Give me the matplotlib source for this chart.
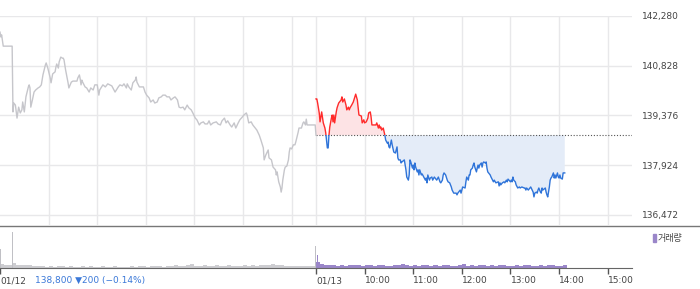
import numpy as np
import matplotlib.pyplot as plt
from matplotlib.patches import Rectangle
from matplotlib.lines import Line2D

# 전일 (01/12) : 09:00 기준 경과 분, 가격
d1_min = [0, 1, 2, 4, 15, 16, 17, 19, 21, 23, 25, 27, 28, 30, 32, 35, 36, 37, 38, 40,
          42, 44, 47, 49, 51, 53, 56, 57, 59, 62, 63, 65, 68, 69, 70, 72, 73, 75, 77, 78,
          79, 81, 84, 85, 88, 90, 93, 95, 96, 98, 99, 100, 101, 102, 105, 107, 110, 112, 115, 117,
          120, 122, 123, 127, 130, 133, 138, 142, 146, 148, 151, 153, 156, 157, 159, 162, 164, 167, 168, 169,
          172, 174, 177, 179, 181, 184, 186, 189, 191, 194, 196, 199, 201, 204, 206, 209, 211, 214, 216, 219,
          221, 223, 226, 228, 231, 233, 236, 238, 241, 243, 246, 248, 251, 253, 256, 258, 260, 263, 267, 269,
          272, 274, 277, 279, 281, 284, 286, 289, 291, 294, 296, 299, 301, 304, 305, 307, 310, 312, 315, 317,
          320, 322, 325, 326, 328, 331, 332, 335, 337, 340, 341, 342, 344, 346, 347, 348, 349, 351, 352, 354,
          356, 357, 358, 360, 362, 364, 365, 368, 369, 372, 374, 375, 377, 378, 379, 389, 390]
d1_price = [141810, 141670, 141730, 141400, 141400, 139480, 139740, 139680, 139300, 139620,
            139450, 139540, 139770, 139480, 139920, 140210, 140270, 140180, 139620, 139830,
            140060, 140120, 140180, 140210, 140270, 140560, 140850, 140910, 140760, 140470,
            140330, 140590, 140650, 140790, 140880, 140760, 140940, 141080, 141050, 141050,
            141000, 140700, 140330, 140180, 140350, 140380, 140380, 140380, 140470, 140560,
            140440, 140270, 140410, 140350, 140210, 140180, 140060, 140180, 140120, 140270,
            140270, 139970, 140120, 140270, 140210, 140300, 140240, 140060, 140210, 140270,
            140240, 140300, 140180, 140300, 140210, 140120, 140330, 140410, 140500, 140350,
            140210, 140210, 140210, 140060, 139970, 139890, 139770, 139830, 139740, 139770,
            139890, 139920, 139970, 139970, 139920, 139920, 139830, 139890, 139920, 139830,
            139620, 139600, 139620, 139540, 139680, 139600, 139540, 139450, 139300, 139250,
            139100, 139160, 139190, 139130, 139130, 139220, 139100, 139160, 139190, 139130,
            139100, 139220, 139300, 139160, 139220, 139100, 139040, 139160, 139010, 139160,
            139250, 139330, 139390, 139450, 139390, 139160, 139190, 139100, 139010, 138950,
            138800, 138660, 138430, 138080, 138220, 138370, 138140, 138080, 137870, 137790,
            137640, 137730, 137440, 137290, 137140, 137260, 137490, 137790, 137870, 137900,
            138080, 138310, 138430, 138400, 138520, 138520, 138600, 138890, 139010, 139010,
            139160, 139190, 139100, 139270, 139100, 139100, 138800]

# 당일 (01/13) : 09:00 기준 경과 분, 가격
d2_min = [0, 1, 2, 4, 5, 7, 9, 11, 12, 14, 15, 16, 17, 19, 20, 21, 22, 23, 25, 26,
          28, 31, 32, 33, 35, 37, 38, 40, 41, 42, 44, 46, 48, 49, 51, 52, 53, 56, 57, 59,
          60, 62, 64, 65, 67, 68, 69, 72, 74, 75, 77, 78, 79, 80, 81, 83, 85, 86, 88, 89,
          90, 91, 93, 94, 96, 98, 99, 100, 101, 102, 104, 105, 106, 109, 110, 111, 112, 114, 115, 116,
          117, 119, 120, 121, 122, 123, 125, 126, 127, 128, 130, 131, 133, 135, 136, 137, 138, 140, 141, 143,
          144, 146, 147, 149, 151, 153, 154, 156, 157, 158, 160, 162, 163, 165, 167, 168, 170, 173, 174, 175,
          178, 179, 180, 181, 184, 185, 186, 188, 189, 190, 191, 193, 194, 195, 196, 198, 199, 200, 201, 202,
          204, 205, 206, 207, 209, 210, 211, 212, 215, 216, 219, 220, 222, 225, 226, 227, 228, 230, 232, 233,
          235, 236, 237, 240, 241, 242, 243, 244, 246, 247, 249, 251, 252, 254, 257, 258, 259, 260, 262, 264,
          265, 268, 269, 270, 272, 273, 274, 275, 277, 278, 279, 280, 283, 284, 285, 286, 288, 289, 290, 291,
          293, 294, 295, 296, 298, 299, 300, 301, 302, 304, 305, 307]
d2_price = [139860, 139860, 139740, 139450, 139190, 139480, 139160, 139010, 138870, 138430,
            138430, 138800, 139040, 139300, 139390, 139190, 139390, 139160, 139480, 139600,
            139740, 139830, 139920, 139770, 139860, 139680, 139540, 139620, 139540, 139600,
            139680, 139770, 139920, 140000, 139830, 139600, 139390, 139360, 139160, 139250,
            139160, 139190, 139300, 139450, 139480, 139330, 139100, 139100, 139100, 139160,
            139010, 139100, 139010, 139040, 138950, 139010, 138800, 138660, 138570, 138600,
            138460, 138430, 138660, 138520, 138310, 138280, 138370, 138460, 138140, 138080,
            138080, 137990, 138020, 138080, 137930, 137790, 137580, 137490, 137640, 138080,
            138020, 137840, 137930, 137790, 137990, 137870, 137730, 137790, 137640, 137790,
            137640, 137670, 137580, 137490, 137550, 137410, 137640, 137490, 137550, 137580,
            137490, 137580, 137550, 137490, 137580, 137440, 137410, 137490, 137640, 137700,
            137640, 137490, 137440, 137410, 137290, 137200, 137110, 137110, 137060, 137110,
            137200, 137110, 137200, 137290, 137260, 137440, 137580, 137490, 137640, 137640,
            137790, 137840, 137930, 137990, 137870, 137730, 137840, 137930, 137840, 137930,
            137990, 137870, 137990, 138020, 137990, 138020, 137840, 137730, 137640, 137580,
            137440, 137490, 137410, 137440, 137320, 137410, 137350, 137410, 137440, 137410,
            137490, 137440, 137520, 137440, 137490, 137440, 137580, 137490, 137440, 137350,
            137260, 137290, 137260, 137290, 137260, 137260, 137200, 137260, 137200, 137260,
            137290, 137140, 137000, 137110, 137140, 137110, 137200, 137260, 137140, 137110,
            137260, 137200, 137260, 137140, 137060, 137000, 137290, 137490, 137550, 137580,
            137700, 137550, 137640, 137550, 137700, 137580, 137550, 137640, 137550, 137520,
            137700, 137700]

base_price = 138800
y_ticks = [136472, 137924, 139376, 140828, 142280]

# 거래량 (5분 단위) + 큰 체결
d1_vol = [4, 3, 3, 5, 3, 3, 3, 3,
          2, 2, 2, 1, 2, 1, 2, 2, 1, 2, 1, 1, 2, 1, 2, 1, 1, 2, 1, 1, 2, 1, 1,
          1, 2, 1, 2, 2, 1, 2, 2, 2, 1,
          2, 2, 3, 2, 2, 3, 4, 2, 2, 3,
          2, 2, 3, 2, 2, 3, 2, 2, 2, 3,
          2, 3, 2, 3, 3, 3, 4, 3, 3, 2,
          2, 2, 2, 2, 2, 2, 2]
d2_vol = [6, 4, 3, 3, 3, 2, 3, 2, 3, 3, 3, 2, 3, 3, 2, 3, 3, 2, 2, 3,
          3, 4, 3, 2, 3, 2, 3, 3, 2, 3, 2, 3, 3, 2, 2, 3, 4, 2, 3, 2,
          3, 3, 2, 3, 2, 3, 3, 2, 2, 3, 2, 3, 3, 2, 2, 3, 2, 3, 3, 2,
          2, 3]
d1_spike_min = [0, 15, 389]
d1_spike_vol = [19, 36, 22]
d2_spike_min = [1]
d2_spike_vol = [13]

tick_pos = [0, 390, 450, 510, 570, 630, 690, 750]
tick_lab = ['01/12', '01/13', '10:00', '11:00', '12:00', '13:00', '14:00', '15:00']

W, H = 700, 289
fig = plt.figure(figsize=(7, 2.89), dpi=100)
ax = fig.add_axes([0, 1 - 225 / H, 632 / W, (225 - 16) / H])
axv = fig.add_axes([0, 1 - 268 / H, 632 / W, (268 - 226) / H])

grid_c = '#e8e8ea'
x1 = np.array(d1_min)
p1 = np.array(d1_price)
x2 = np.array(d2_min) + 390
p2 = np.array(d2_price)

for gx in list(range(60, 390, 60)) + tick_pos[1:]:
    ax.axvline(gx, color=grid_c, lw=1, zorder=0)
for gy in y_ticks:
    ax.axhline(gy, color=grid_c, lw=1, zorder=0)

ax.plot(x1, p1, color='#c6c6cb', lw=1, zorder=3)

ax.fill_between(x2, p2, base_price, where=p2 >= base_price, interpolate=True,
                color='#fde3e5', lw=0, zorder=1)
ax.fill_between(x2, p2, base_price, where=p2 <= base_price, interpolate=True,
                color='#e4ecf8', lw=0, zorder=1)
ax.plot([390, 780], [base_price, base_price], color='#555555', lw=0.8,
        ls=(0, (1, 1.6)), zorder=2)

up = Rectangle((380, base_price), 500, 10000, transform=ax.transData)
dn = Rectangle((380, base_price - 10000), 500, 10000, transform=ax.transData)
l_up, = ax.plot(x2, p2, color='#ff2b2b', lw=1, zorder=4)
l_dn, = ax.plot(x2, p2, color='#2f74d9', lw=1, zorder=4)
l_up.set_clip_path(up)
l_dn.set_clip_path(dn)

ax.set_xlim(0, 780)
ax.set_ylim(136180, 142280)
ax.set_xticks([])
ax.yaxis.tick_right()
ax.set_yticks(y_ticks)
ax.set_yticklabels([f'{v:,}' for v in y_ticks])
ax.tick_params(axis='y', length=0, pad=7, labelsize=6.5, labelcolor='#444444')
for s in ax.spines.values():
    s.set_visible(False)

# 거래량
axv.bar(np.arange(len(d1_vol)) * 5, d1_vol, width=5, align='edge', color='#cdcdd1', lw=0)
axv.bar(np.array(d1_spike_min), d1_spike_vol, width=1.2, align='edge', color='#c0c0c5', lw=0)
axv.bar(np.arange(len(d2_vol)) * 5 + 390, d2_vol, width=5, align='edge', color='#9a86c9', lw=0)
axv.bar(np.array(d2_spike_min) + 390, d2_spike_vol, width=1.2, align='edge', color='#9a86c9', lw=0)
axv.set_xlim(0, 780)
axv.set_ylim(0, 42)
axv.set_yticks([])
axv.set_xticks(tick_pos)
axv.set_xticklabels(tick_lab)
axv.tick_params(axis='x', length=4, width=1, color='#555555', pad=2,
                labelsize=6.5, labelcolor='#444444')
for lab in axv.get_xticklabels():
    lab.set_ha('left')
for k in ['top', 'left', 'right']:
    axv.spines[k].set_visible(False)
axv.spines['bottom'].set_color('#666666')

fig.add_artist(Line2D([0, 1], [1 - 225.5 / H] * 2, color='#777777', lw=1))

fig.text(35 / W, 1 - 280 / H, '138,800 \u25bc200 (\u22120.14%)', color='#3a78d8',
         fontsize=6.5, va='center')
fig.patches.append(Rectangle((653 / W, 1 - 242 / H), 3 / W, 8 / H,
                             transform=fig.transFigure, color='#9a86c9'))
fig.text(658 / W, 1 - 238 / H, '거래량', family=['Noto Sans CJK KR', 'DejaVu Sans'],
         fontsize=6.5, color='#444444', va='center')

fig.savefig('out.png', dpi=100)
